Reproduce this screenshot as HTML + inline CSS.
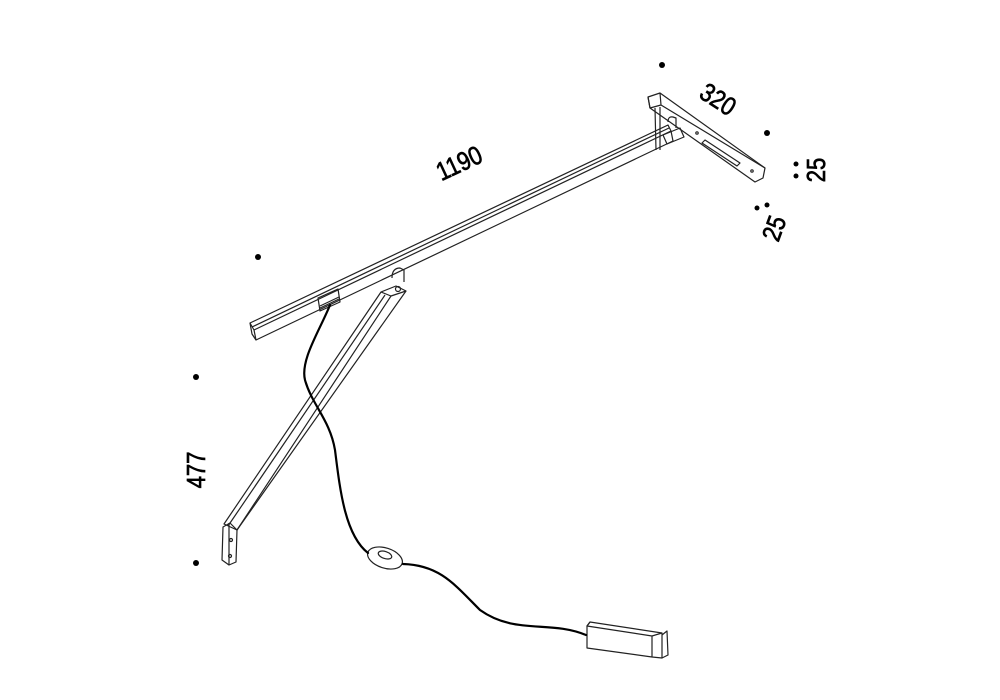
<!DOCTYPE html>
<html><head><style>
html,body{margin:0;padding:0;background:#fff;}
svg{display:block}
text{font-family:"Liberation Sans",sans-serif;font-size:26px;fill:#000;stroke:#000;stroke-width:0.7;}
</style></head><body>
<svg width="1000" height="700" viewBox="0 0 1000 700" xmlns="http://www.w3.org/2000/svg">
<g fill="none" stroke="#222" stroke-width="1.2" stroke-linejoin="round">
<path d="M250,323 L668,125 L671,131 L254,330 Z"/>
<path d="M254,330 L256,340 L673,141 L671,131"/>
<path d="M250,323 L252,334 L256,340"/>
<path d="M252,327 L669,128"/>
<path d="M318,298 L338,289 L340,302 L320,311 Z"/>
<path d="M320,306 L339,297 M320,308 L339,299"/>
<path d="M392,278 Q392,268 400,268 L404,270 L404,282"/>
<path d="M648,97 L660,93 L765,168 L763,178 L755,182 L650,108 Z"/>
<path d="M660,93 L661,105 L765,168 M661,105 L650,108"/>
<path d="M648,97 L650,108"/>
<path d="M705,140 L740,163 L737,166 L702,143 Z"/>
<circle cx="697" cy="133" r="1.2"/><circle cx="752" cy="171" r="1.2"/>
<path d="M655,108 L656,150 M660,107 L660,150"/>
<path d="M668,122 Q668,116 673,117 L676,118 L676,128"/>
<path d="M663,135 L680,128 L684,137 L667,144 Z"/>
<path d="M381,292 L396,286 L406,291 L237,530 L224,524 Z"/>
<path d="M381,292 L391,296 L237,530 M391,296 L406,291"/>
<path d="M385,295 L228,526"/>
<circle cx="398" cy="289" r="2.5"/>
<path d="M223,527 L230,523 L237,530 L236,562 L229,565 L222,560 Z"/>
<path d="M229,523 L229,565"/>
<circle cx="231" cy="540" r="1.5"/><circle cx="230" cy="556" r="1.5"/>
<ellipse cx="385" cy="558" rx="18" ry="10" transform="rotate(18 385 558)"/>
<ellipse cx="385" cy="555" rx="7" ry="3.5" transform="rotate(18 385 555)"/>
<path d="M587,626 L590,622 L662,633 L662,658 L652,657 L587,648 Z"/>
<path d="M590,622 L587,626 L652,636 L662,633 M652,636 L652,657"/>
<path d="M662,635 L667,631 L668,655 L662,658"/>
</g>
<g fill="none" stroke="#000" stroke-width="2.2" stroke-linecap="round">
<path d="M330,305 C320,330 300,360 305,380 C312,405 330,420 335,450 C340,490 345,535 368,553"/>
<path d="M403,564 C440,565 455,585 480,610 C515,635 550,620 586,635"/>
</g>
<g fill="#000" stroke="none">
<circle cx="662" cy="65" r="3"/><circle cx="767" cy="133" r="3"/>
<circle cx="258" cy="257" r="3"/><circle cx="196" cy="377" r="3"/>
<circle cx="196" cy="563" r="3"/>
<circle cx="796" cy="164" r="2.5"/><circle cx="796" cy="176" r="2.5"/>
<circle cx="757" cy="208" r="2.5"/><circle cx="767" cy="205" r="2.5"/>
</g>
<text transform="translate(460,165) rotate(-25) scale(0.85,1)" text-anchor="middle" dominant-baseline="middle">1190</text>
<text transform="translate(717,101) rotate(33) scale(0.85,1)" text-anchor="middle" dominant-baseline="middle">320</text>
<text transform="translate(818,170) rotate(-90) scale(0.85,1)" text-anchor="middle" dominant-baseline="middle">25</text>
<text transform="translate(776,229) rotate(-70) scale(0.85,1)" text-anchor="middle" dominant-baseline="middle">25</text>
<text transform="translate(198,470) rotate(-90) scale(0.85,1)" text-anchor="middle" dominant-baseline="middle">477</text>
</svg>
</body></html>
